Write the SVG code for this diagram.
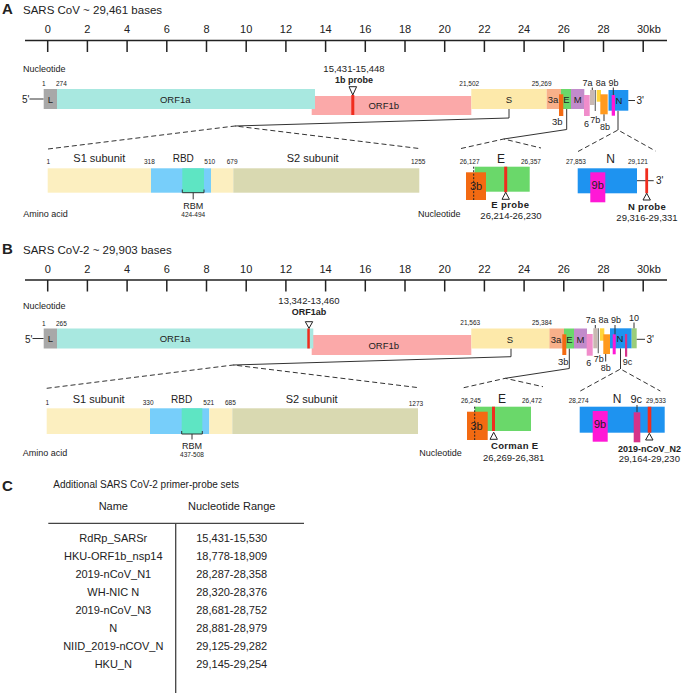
<svg xmlns="http://www.w3.org/2000/svg" width="684" height="693" viewBox="0 0 684 693">
<style>
text{font-family:"Liberation Sans",Arial,sans-serif;fill:#222}
.h{font-size:15px;font-weight:bold}
.t{font-size:11.5px}
.tk{font-size:11px;text-anchor:middle}
.nt{font-size:9px}
.sm{font-size:6.5px}
.g{font-size:9.5px;text-anchor:middle}
.q{font-size:9px;text-anchor:middle}
.c{text-anchor:middle}
.b{font-weight:bold}
.sub{font-size:11px}
.big{font-size:12px;text-anchor:middle}
.rng{font-size:9.5px;text-anchor:middle}
.tb{font-size:11px;text-anchor:middle}
.ax{stroke:#222;stroke-width:1.5;fill:none}
.ln{stroke:#333;stroke-width:1;fill:none}
.ds{stroke:#333;stroke-width:1;fill:none;stroke-dasharray:5 3}
.tri{fill:#fff;stroke:#222;stroke-width:1}
.probe{fill:#F02D1E}
</style>
<defs>
<g id="ticks">
<path class="ax" d="M25 0H667M47.7 0v11.5M87.4 0v11.5M127.1 0v11.5M166.8 0v11.5M206.5 0v11.5M246.2 0v11.5M285.9 0v11.5M325.6 0v11.5M365.3 0v11.5M405 0v11.5M444.7 0v11.5M484.4 0v11.5M524.1 0v11.5M563.8 0v11.5M603.5 0v11.5M643.2 0v11.5"/>
<text class="tk" x="47.7" y="-7.5">0</text><text class="tk" x="87.4" y="-7.5">2</text><text class="tk" x="127.1" y="-7.5">4</text><text class="tk" x="166.8" y="-7.5">6</text><text class="tk" x="206.5" y="-7.5">8</text><text class="tk" x="246.2" y="-7.5">10</text><text class="tk" x="285.9" y="-7.5">12</text><text class="tk" x="325.6" y="-7.5">14</text><text class="tk" x="365.3" y="-7.5">16</text><text class="tk" x="405" y="-7.5">18</text><text class="tk" x="444.7" y="-7.5">20</text><text class="tk" x="484.4" y="-7.5">22</text><text class="tk" x="524.1" y="-7.5">24</text><text class="tk" x="563.8" y="-7.5">26</text><text class="tk" x="603.5" y="-7.5">28</text><text x="637" y="-7.5" style="font-size:11px">30kb</text>
</g>
</defs>

<!-- Panel A -->
<g id="panelA-title"><text class="h" x="2" y="14">A</text><text class="t" x="23" y="14">SARS CoV ~ 29,461 bases</text></g>
<g id="rulerA" transform="translate(0,40.5)"><use href="#ticks"/></g>

<g id="connectorsA">
<polyline class="ln" points="509,109 509,118 235,126"/>
<polyline class="ds" points="48,149 235,126 419,148.5"/>
<polyline class="ln" points="566.7,109 566.7,129.5 503.7,139"/>
<polyline class="ds" points="461,148.5 503.7,139 541,148"/>
<polyline class="ln" points="618,110.7 618,130"/>
<polyline class="ds" points="578,151.5 618,130 655.5,151"/>
</g>

<g id="genomeA">
<text class="nt" x="23" y="72">Nucleotide</text>
<text class="sm" x="42" y="86">1</text><text class="sm" x="56" y="86">274</text>
<text x="22" y="103" style="font-size:10px">5'</text><path class="ln" d="M29.5 99H43.7"/>
<g id="A-L"><rect x="43.7" y="89" width="13.3" height="20" fill="#A8A8A8"/><text class="g" x="50.3" y="102.5">L</text></g>
<g id="A-ORF1b"><rect x="311.7" y="96" width="159.6" height="19" fill="#FBA9A9"/><text class="g" x="383.7" y="109">ORF1b</text></g>
<g id="A-ORF1a"><rect x="57" y="89" width="258" height="20" fill="#A8E8E0"/><text class="g" x="175.3" y="102.5">ORF1a</text></g>
<g id="A-1bprobe"><rect class="probe" x="351.3" y="95" width="3" height="20"/><polygon class="tri" points="349,86.7 356.6,86.7 352.8,95"/><text class="rng" x="354" y="71.5">15,431-15,448</text><text class="g b" x="354" y="83" style="font-size:9px">1b probe</text></g>
<g id="A-S"><rect x="471.3" y="89" width="75.4" height="20" fill="#FDE9AA"/><text class="g" x="509" y="103">S</text></g>
<text class="sm" x="459.3" y="85.5">21,502</text><text class="sm" x="531.7" y="85.5">25,269</text>
<g id="A-3a"><rect x="546.7" y="89" width="14.3" height="20" fill="#F8B08A"/><text class="g" x="553" y="103">3a</text></g>
<g id="A-E"><rect x="561" y="89" width="10" height="20" fill="#6AD86A"/></g>
<g id="A-3b"><rect x="559" y="94.3" width="4.3" height="21.7" fill="#F36A12"/><text class="g" x="557.3" y="124.5">3b</text></g>
<text class="g" x="566.5" y="103">E</text>
<g id="A-M"><rect x="571" y="89" width="13.3" height="20" fill="#C28BCB"/><text class="g" x="577.7" y="103">M</text></g>
<g id="A-6"><rect x="584" y="95" width="5.7" height="21" fill="#F08DCB"/><text class="q" x="586.5" y="126.5">6</text></g>
<g id="A-7a"><rect x="590" y="90" width="4.3" height="15" fill="#C9B9B2"/><path class="ln" d="M592.3 87.5V90"/><text class="q" x="587.5" y="86">7a</text></g>
<g id="A-7b"><path d="M595.3 90V111" stroke="#777" stroke-width="1.3"/><text class="q" x="595.3" y="122.5">7b</text></g>
<g id="A-8a"><rect x="596.7" y="90" width="4.3" height="11.7" fill="#FFD53A"/><text class="q" x="600.7" y="86">8a</text></g>
<g id="A-8b"><rect x="600.3" y="94.3" width="7.4" height="20" fill="#FF9A1E"/><path class="ln" d="M604 114.3V121"/><text class="q" x="605" y="130">8b</text></g>
<g id="A-N"><rect x="608.5" y="90" width="19.8" height="20.7" fill="#1E93F0"/></g>
<g id="A-9b"><rect x="611.7" y="95" width="3.3" height="20.7" fill="#FF18D6"/><path class="ln" d="M613.3 87.5V95"/><text class="q" x="613.5" y="86">9b</text></g>
<text class="g" x="619" y="104">N</text>
<path class="ln" d="M628.3 100.5H635"/><text x="636.5" y="104" style="font-size:10px">3'</text>
</g>

<g id="A-spike">
<text class="sm" x="46.5" y="164.3">1</text>
<text class="sub" x="73.3" y="162.3">S1 subunit</text>
<text class="sm" x="144" y="164.3">318</text>
<text x="172.7" y="162.3" style="font-size:10px">RBD</text>
<text class="sm" x="204.3" y="164.3">510</text>
<text class="sm" x="226.7" y="164.3">679</text>
<text class="sub" x="286.7" y="162.3">S2 subunit</text>
<text class="sm" x="411" y="164.3">1255</text>
<rect x="47.7" y="168.3" width="103.3" height="24.4" fill="#FCEFC0"/>
<rect x="151" y="168.3" width="60" height="24.4" fill="#77CEFA"/>
<rect x="182.3" y="168.3" width="21.7" height="24.4" fill="#5EE5C3"/>
<rect x="211" y="168.3" width="22.3" height="24.4" fill="#FCEFC0"/>
<rect x="233.3" y="168.3" width="186" height="24.4" fill="#D9D9B1"/>
<path class="ln" d="M182.3 189.5V192.7H204V189.5M193.2 192.7V199.3"/>
<text class="c" x="193.2" y="209" style="font-size:9px">RBM</text>
<text class="sm c" x="193.2" y="216.7">424-494</text>
<text class="nt" x="23.3" y="216.7">Amino acid</text>
</g>

<g id="A-Eexp">
<text class="sm" x="459.7" y="164">26,127</text>
<text class="big" x="501" y="163.3">E</text>
<text class="sm" x="521" y="164">26,357</text>
<rect x="474.7" y="166.7" width="55" height="25" fill="#6AD86A"/>
<rect x="466" y="172.3" width="20" height="27.7" fill="#F36A12"/>
<path d="M473.7 166.7V200" stroke="#222" stroke-width="1" stroke-dasharray="2 1.5"/>
<text class="c" x="476" y="190" style="font-size:11px">3b</text>
<rect class="probe" x="504.2" y="166.7" width="3" height="25.6"/>
<polygon class="tri" points="502,199.3 509.4,199.3 505.7,192.3"/>
<text class="g b" x="510.3" y="208.3" style="letter-spacing:0.4px">E probe</text>
<text class="rng" x="511" y="219">26,214-26,230</text>
<text class="nt" x="418" y="216.7">Nucleotide</text>
</g>

<g id="A-Nexp">
<text class="sm" x="566" y="164">27,853</text>
<text class="big" x="610.7" y="163.3">N</text>
<text class="sm" x="628" y="164">29,121</text>
<rect x="577.7" y="168.3" width="59.3" height="25" fill="#1E93F0"/>
<rect x="590.3" y="172.3" width="15" height="30" fill="#FF18D6"/>
<text class="c" x="597.7" y="189" style="font-size:11px">9b</text>
<path class="ln" d="M637 180.7H653.7"/><text x="656" y="184" style="font-size:10px">3'</text>
<rect class="probe" x="645.3" y="168.3" width="2.8" height="25"/>
<polygon class="tri" points="643,200 650.4,200 646.7,193.3"/>
<text class="g b" x="647" y="210" style="letter-spacing:0.3px">N probe</text>
<text class="rng" x="647" y="221">29,316-29,331</text>
</g>

<!-- Panel B -->
<g id="panelB-title"><text class="h" x="2" y="254">B</text><text class="t" x="23" y="254">SARS CoV-2 ~ 29,903 bases</text></g>
<g id="rulerB" transform="translate(0,280)"><use href="#ticks"/></g>

<g id="connectorsB">
<polyline class="ln" points="511,348.5 511,356.7 233.3,365"/>
<polyline class="ds" points="46.7,388.3 233.3,365 418.7,387.7"/>
<polyline class="ln" points="569.3,348.5 569.3,368.5 505.3,378.3"/>
<polyline class="ds" points="463.7,387.7 505.3,378.3 543,386.7"/>
<polyline class="ln" points="620.5,348.3 620.5,369"/>
<polyline class="ds" points="580.3,391 620.5,369 660.3,391"/>
</g>

<g id="genomeB">
<text class="nt" x="23" y="308.5">Nucleotide</text>
<text class="sm" x="42" y="325.7">1</text><text class="sm" x="56" y="325.7">265</text>
<text x="25" y="342.5" style="font-size:10px">5'</text><path class="ln" d="M32.5 338.5H43.7"/>
<g id="B-L"><rect x="43.7" y="328.5" width="13.3" height="20" fill="#A8A8A8"/><text class="g" x="50.3" y="342">L</text></g>
<g id="B-ORF1b"><rect x="311.7" y="335" width="159.6" height="20" fill="#FBA9A9"/><text class="g" x="383.7" y="348.5">ORF1b</text></g>
<g id="B-ORF1a"><rect x="57" y="328.5" width="256.3" height="20" fill="#A8E8E0"/><text class="g" x="175" y="342">ORF1a</text></g>
<g id="B-ORF1abprobe"><rect class="probe" x="307.3" y="328.5" width="2.5" height="20"/><polygon class="tri" points="305.3,321.7 312.7,321.7 309,328.3"/><text class="rng" x="309" y="304">13,342-13,460</text><text class="g b" x="309" y="314.5" style="font-size:9px">ORF1ab</text></g>
<g id="B-S"><rect x="471.3" y="328.5" width="78.5" height="20" fill="#FDE9AA"/><text class="g" x="510" y="342.5">S</text></g>
<text class="sm" x="460.3" y="325">21,563</text><text class="sm" x="532" y="325">25,384</text>
<g id="B-3a"><rect x="549.5" y="328.5" width="14.5" height="20" fill="#F8B08A"/><text class="g" x="556" y="342.5">3a</text></g>
<g id="B-E"><rect x="564" y="328.5" width="10" height="20" fill="#6AD86A"/></g>
<g id="B-3b"><rect x="562.3" y="334.3" width="4" height="20.7" fill="#F36A12"/><text class="g" x="563.3" y="365">3b</text></g>
<text class="g" x="569.5" y="342.5">E</text>
<g id="B-M"><rect x="574" y="328.5" width="13" height="20" fill="#C28BCB"/><text class="g" x="580.5" y="342.5">M</text></g>
<g id="B-6"><rect x="586.7" y="334" width="6" height="21.7" fill="#F08DCB"/><text class="q" x="588.7" y="366">6</text></g>
<g id="B-7a"><rect x="593.3" y="328.3" width="4" height="20" fill="#C9B9B2"/><path class="ln" d="M595.3 325V328.3"/><text class="q" x="590.7" y="323.3">7a</text></g>
<g id="B-7b"><path d="M598.3 328.3V353.3" stroke="#777" stroke-width="1.3"/><text class="q" x="598.7" y="362">7b</text></g>
<g id="B-8a"><rect x="600" y="328.3" width="4.3" height="12.4" fill="#FFD53A"/><text class="q" x="603.5" y="323.3">8a</text></g>
<g id="B-8b"><rect x="603.3" y="334.3" width="6.7" height="19.7" fill="#FF9A1E"/><path class="ln" d="M605.7 354V361.5"/><text class="q" x="605.7" y="370.7">8b</text></g>
<g id="B-N"><rect x="610" y="328.3" width="21.7" height="20" fill="#1E93F0"/></g>
<g id="B-9b"><rect x="612.7" y="334.3" width="3" height="20" fill="#FF18D6"/><path class="ln" d="M615 325V334.3"/><text class="q" x="616" y="323.3">9b</text></g>
<text class="g" x="620" y="342.3">N</text>
<g id="B-9c"><rect x="625" y="334" width="2.2" height="22.7" fill="#D6338A"/><text class="q" x="627.5" y="365">9c</text></g>
<g id="B-10"><rect x="631.7" y="328.3" width="5" height="20" fill="#9ACD7A"/><path class="ln" d="M634 322.5V328.3"/><text class="q" x="634" y="321">10</text></g>
<path class="ln" d="M636.7 339.3H645"/><text x="646.5" y="342.5" style="font-size:10px">3'</text>
</g>

<g id="B-spike">
<text class="sm" x="45.5" y="405">1</text>
<text class="sub" x="72.7" y="402.7">S1 subunit</text>
<text class="sm" x="142.7" y="405">330</text>
<text x="171" y="402.7" style="font-size:10px">RBD</text>
<text class="sm" x="203.3" y="405">521</text>
<text class="sm" x="225" y="405">685</text>
<text class="sub" x="285.7" y="402.7">S2 subunit</text>
<text class="sm" x="408.7" y="405.5">1273</text>
<rect x="46.7" y="408.3" width="103.3" height="25.7" fill="#FCEFC0"/>
<rect x="150" y="408.3" width="59.3" height="25.7" fill="#77CEFA"/>
<rect x="181.7" y="408.3" width="20.6" height="25.7" fill="#5EE5C3"/>
<rect x="209.3" y="408.3" width="23" height="25.7" fill="#FCEFC0"/>
<rect x="232.3" y="408.3" width="185.7" height="25.7" fill="#D9D9B1"/>
<path class="ln" d="M181.7 431V434H202.3V431M192 434V439.5"/>
<text class="c" x="192" y="449" style="font-size:9px">RBM</text>
<text class="sm c" x="192" y="456.7">437-508</text>
<text class="nt" x="22.7" y="456">Amino acid</text>
</g>

<g id="B-Eexp">
<text class="sm" x="461" y="402.7">26,245</text>
<text class="big" x="502" y="402.7">E</text>
<text class="sm" x="522" y="402.7">26,472</text>
<rect x="474.7" y="406.7" width="56.3" height="24.3" fill="#6AD86A"/>
<rect x="467" y="411.7" width="20.7" height="28.3" fill="#F36A12"/>
<path d="M474.7 406.7V440" stroke="#222" stroke-width="1" stroke-dasharray="2 1.5"/>
<text class="c" x="476.5" y="430" style="font-size:11px">3b</text>
<rect class="probe" x="492" y="406.7" width="3" height="24.3"/>
<polygon class="tri" points="490,439.3 497.4,439.3 493.7,432.3"/>
<text class="g b" x="514.7" y="449.3" style="letter-spacing:0.3px">Corman E</text>
<text class="rng" x="513.7" y="461">26,269-26,381</text>
<text class="nt" x="419.3" y="455.7">Nucleotide</text>
</g>

<g id="B-Nexp">
<text class="sm" x="568.7" y="402.7">28,274</text>
<text class="big" x="617" y="402.7">N</text>
<text class="g" x="636.3" y="402.7" style="font-size:11px">9c</text>
<text class="sm" x="646" y="402.7">29,533</text>
<rect x="579.7" y="406.7" width="85" height="26" fill="#1E93F0"/>
<rect x="592.7" y="411" width="15" height="30.7" fill="#FF18D6"/>
<text class="c" x="600" y="428.3" style="font-size:11px">9b</text>
<path class="ln" d="M637 405V412.3"/>
<rect x="633.7" y="412.3" width="6.6" height="30" fill="#D6338A"/>
<rect class="probe" x="647.7" y="406.7" width="3.6" height="26"/>
<polygon class="tri" points="645.6,440 653,440 649.3,433.3"/>
<text class="g b" x="649.5" y="451.7" style="font-size:9px">2019-nCoV_N2</text>
<text class="rng" x="649.3" y="462.3">29,164-29,230</text>
</g>

<!-- Panel C -->
<g id="panelC">
<text class="h" x="2" y="491">C</text>
<text x="53.3" y="488.3" style="font-size:10px">Additional SARS CoV-2 primer-probe sets</text>
<text class="tb" x="113.3" y="510">Name</text>
<text class="tb" x="231.7" y="510">Nucleotide Range</text>
<path d="M48.3 523.3H304" stroke="#444" stroke-width="1.3"/>
<path d="M175.7 523.3V693" stroke="#444" stroke-width="1.3"/>
<text class="tb" x="113.3" y="541.7">RdRp_SARSr</text><text class="tb" x="231.7" y="541.7">15,431-15,530</text>
<text class="tb" x="113.3" y="560">HKU-ORF1b_nsp14</text><text class="tb" x="231.7" y="560">18,778-18,909</text>
<text class="tb" x="113.3" y="577.7">2019-nCoV_N1</text><text class="tb" x="231.7" y="577.7">28,287-28,358</text>
<text class="tb" x="113.3" y="595.9">WH-NIC N</text><text class="tb" x="231.7" y="595.9">28,320-28,376</text>
<text class="tb" x="113.3" y="614">2019-nCoV_N3</text><text class="tb" x="231.7" y="614">28,681-28,752</text>
<text class="tb" x="113.3" y="632">N</text><text class="tb" x="231.7" y="632">28,881-28,979</text>
<text class="tb" x="113.3" y="650">NIID_2019-nCOV_N</text><text class="tb" x="231.7" y="650">29,125-29,282</text>
<text class="tb" x="113.3" y="668.3">HKU_N</text><text class="tb" x="231.7" y="668.3">29,145-29,254</text>
</g>
</svg>
